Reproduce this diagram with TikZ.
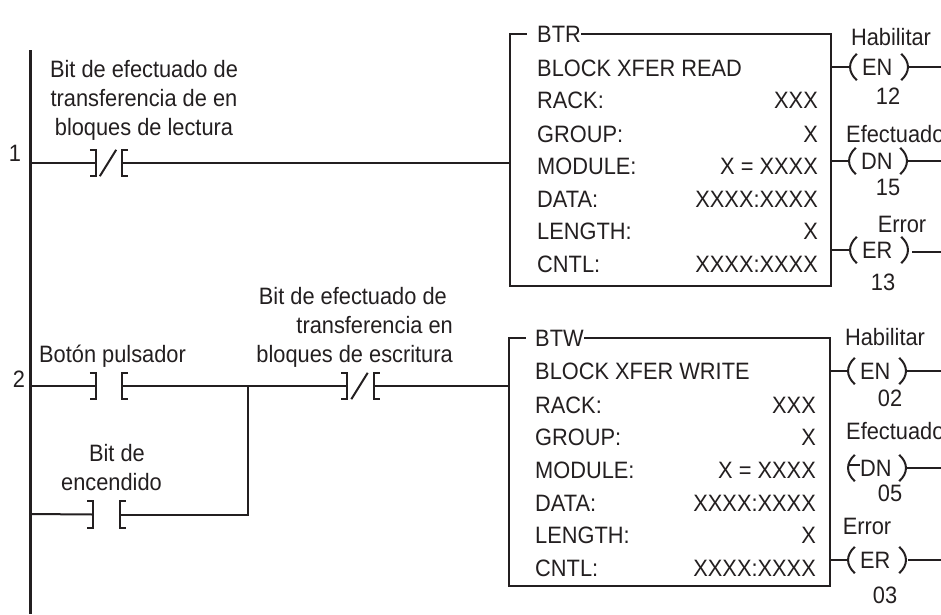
\documentclass[tikz,border=0pt]{standalone}
\usepackage{fontspec}
\setmainfont[FakeStretch=0.92]{Liberation Sans}
\usetikzlibrary{calc}
\definecolor{InkColor}{HTML}{231F20}
\tikzstyle{Wire}=[draw=InkColor, line width=2pt]
\tikzstyle{RailLine}=[draw=InkColor, line width=2.4pt]
\tikzstyle{LabelNode}=[text=InkColor, inner sep=0pt, font=\fontsize{23.7}{29}\selectfont]
\tikzstyle{BoxNode}=[rectangle, Wire, inner sep=0pt, minimum width=321pt, minimum height=252pt]
\tikzstyle{TitleNode}=[LabelNode, fill=white, anchor=base west]
\tikzstyle{RowNode}=[LabelNode, anchor=base west]
\tikzstyle{ValNode}=[LabelNode, anchor=base east]
\tikzstyle{ContactNode}=[rectangle, inner sep=0pt, minimum width=26pt, minimum height=26pt]
\tikzstyle{CoilNode}=[LabelNode, rectangle, minimum height=26pt, text width=34pt, inner xsep=0pt, align=flush left]
\newcommand{\ContactBars}[1]{
\draw[Wire] ($(#1.north west)+(-6,0)$) -- (#1.north west) -- (#1.south west) -- ($(#1.south west)+(-6,0)$);
\draw[Wire] ($(#1.north east)+(6,0)$) -- (#1.north east) -- (#1.south east) -- ($(#1.south east)+(6,0)$);
}
\newcommand{\ContactSlash}[1]{
\draw[Wire] ($(#1.south west)+(4,0)$) -- ($(#1.north east)+(-6,0)$);
}
\newcommand{\CoilArcs}[1]{
\draw[Wire] ($(#1.north west)+(-5,0)$) .. controls ($(#1.west)+(-14,-5)$) and ($(#1.west)+(-14,5)$) .. ($(#1.south west)+(-5,0)$);
\draw[Wire] ($(#1.north east)+(5,0)$) .. controls ($(#1.east)+(14,-5)$) and ($(#1.east)+(14,5)$) .. ($(#1.south east)+(5,0)$);
}

\begin{document}
\begin{tikzpicture}[x=1pt, y=-1pt]
\useasboundingbox (0,0) rectangle (941,614);

\coordinate (RailTop) at (30.5,50);
\coordinate (RailBot) at (30.5,614);
\coordinate (Rung1) at (30.5,163);
\coordinate (Rung2) at (30.5,386);
\coordinate (Rung2b) at (30.5,514);
\coordinate (Branch) at (248,386);

\node[LabelNode, anchor=base](Num1) at (15,161) {1};
\node[LabelNode, anchor=base](Num2) at (19,387) {2};

\node[ContactNode](ReadBit) at (109,163) {};
\node[ContactNode](Button) at (109,386) {};
\node[ContactNode](PowerBit) at (106.5,514.5) {};
\node[ContactNode](WriteBit) at (360.5,386) {};
\ContactBars{ReadBit}
\ContactBars{Button}
\ContactBars{PowerBit}
\ContactBars{WriteBit}
\ContactSlash{ReadBit}
\ContactSlash{WriteBit}

\node[LabelNode, align=center, anchor=north](ReadLabel) at (144,60) {Bit de efectuado de\\transferencia de en\\bloques de lectura};
\node[LabelNode, anchor=base](ButtonLabel) at (112.5,362) {Botón pulsador};
\node[LabelNode, align=right, anchor=north east](PowerLabel) at (162,444) {Bit de\hspace*{17pt}\\encendido};
\node[LabelNode, align=right, anchor=north east](WriteLabel) at (453,287) {Bit de efectuado de\hspace*{6pt}\\transferencia en\\bloques de escritura};

\node[BoxNode](BTRBox) at (670.5,160) {};
\node[TitleNode](BTRTitle) at (527,42) {\hspace{10pt}BTR\hspace{5pt}};
\node[RowNode](BTRName) at (537,76) {BLOCK XFER READ};
\node[RowNode](BTRRack) at (537,108) {RACK:};
\node[RowNode](BTRGroup) at (537,142) {GROUP:};
\node[RowNode](BTRModule) at (537,174) {MODULE:};
\node[RowNode](BTRData) at (537,207) {DATA:};
\node[RowNode](BTRLength) at (537,239) {LENGTH:};
\node[RowNode](BTRCntl) at (537,272) {CNTL:};
\node[ValNode](BTRRackV) at (818,108) {XXX};
\node[ValNode](BTRGroupV) at (818,142) {X};
\node[ValNode](BTRModuleV) at (818,174) {X = XXXX};
\node[ValNode](BTRDataV) at (818,207) {XXXX:XXXX};
\node[ValNode](BTRLengthV) at (818,239) {X};
\node[ValNode](BTRCntlV) at (818,272) {XXXX:XXXX};

\node[BoxNode, minimum height=248pt](BTWBox) at (669,462) {};
\node[TitleNode](BTWTitle) at (526,346) {\hspace{9pt}BTW};
\node[RowNode](BTWName) at (535,379) {BLOCK XFER WRITE};
\node[RowNode](BTWRack) at (535,413) {RACK:};
\node[RowNode](BTWGroup) at (535,445) {GROUP:};
\node[RowNode](BTWModule) at (535,478) {MODULE:};
\node[RowNode](BTWData) at (535,511) {DATA:};
\node[RowNode](BTWLength) at (535,543) {LENGTH:};
\node[RowNode](BTWCntl) at (535,576) {CNTL:};
\node[ValNode](BTWRackV) at (816,413) {XXX};
\node[ValNode](BTWGroupV) at (816,445) {X};
\node[ValNode](BTWModuleV) at (816,478) {X = XXXX};
\node[ValNode](BTWDataV) at (816,511) {XXXX:XXXX};
\node[ValNode](BTWLengthV) at (816,543) {X};
\node[ValNode](BTWCntlV) at (816,576) {XXXX:XXXX};

\node[CoilNode](EN1) at (879,67) {EN};
\node[CoilNode](DN1) at (878,161) {DN};
\node[CoilNode](ER1) at (879,250) {ER};
\node[CoilNode](EN2) at (877,371) {EN};
\node[CoilNode](DN2) at (877,468) {DN};
\node[CoilNode](ER2) at (877,560) {ER};
\CoilArcs{EN1}
\CoilArcs{DN1}
\CoilArcs{EN2}
\CoilArcs{DN2}
\CoilArcs{ER2}
\CoilArcs{ER1}

\node[LabelNode, anchor=base](HabA) at (891,45) {Habilitar};
\node[LabelNode, anchor=base](NumA) at (888,104) {12};
\node[LabelNode, anchor=base west](EfeA) at (846,142) {Efectuado};
\node[LabelNode, anchor=base](NumB) at (888,195) {15};
\node[LabelNode, anchor=base](ErrA) at (902,232) {Error};
\node[LabelNode, anchor=base](NumC) at (883,290) {13};
\node[LabelNode, anchor=base](HabB) at (885,345) {Habilitar};
\node[LabelNode, anchor=base](NumD) at (890,406) {02};
\node[LabelNode, anchor=base west](EfeB) at (846,439) {Efectuado};
\node[LabelNode, anchor=base](NumE) at (890,501) {05};
\node[LabelNode, anchor=base](ErrB) at (867,534) {Error};
\node[LabelNode, anchor=base](NumF) at (885,603) {03};

\coordinate (OutEN1) at (941,67);
\coordinate (OutDN1) at (941,161);
\coordinate (OutER1) at (941,252);
\coordinate (OutEN2) at (941,371);
\coordinate (OutDN2) at (941,468);
\coordinate (OutER2) at (941,560);

\draw[RailLine](RailTop) -- (RailBot);
\draw[Wire](Rung1) -- (ReadBit.west);
\draw[Wire](ReadBit.east) -- (ReadBit.east -| BTRBox.west);
\draw[Wire](Rung2) -- (Button.west);
\draw[Wire](Button.east) -- (Branch);
\draw[Wire](Branch) -- (WriteBit.west);
\draw[Wire](WriteBit.east) -- (WriteBit.east -| BTWBox.west);
\draw[Wire](Rung2b) -- (PowerBit.west);
\draw[Wire](PowerBit.east) -| (Branch);

\draw[Wire](EN1.west -| BTRBox.east) -- ($(EN1.west)+(-12,0)$);
\draw[Wire](DN1.west -| BTRBox.east) -- ($(DN1.west)+(-12,0)$);
\draw[Wire](ER1.west -| BTRBox.east) -- ($(ER1.west)+(-12,0)$);
\draw[Wire](EN2.west -| BTWBox.east) -- ($(EN2.west)+(-12,0)$);
\draw[Wire]($(DN2.west)+(0,-3)$ -| BTWBox.east) -- ($(DN2.west)+(-12,-3)$);
\draw[Wire](ER2.west -| BTWBox.east) -- ($(ER2.west)+(-12,0)$);
\draw[Wire]($(EN1.east)+(12,0)$) -- (OutEN1);
\draw[Wire]($(DN1.east)+(12,0)$) -- (OutDN1);
\draw[Wire]($(ER1.east)+(16,2)$) -- (OutER1);
\draw[Wire]($(EN2.east)+(12,0)$) -- (OutEN2);
\draw[Wire]($(DN2.east)+(12,0)$) -- (OutDN2);
\draw[Wire]($(ER2.east)+(14,0)$) -- (OutER2);
\end{tikzpicture}
\end{document}
